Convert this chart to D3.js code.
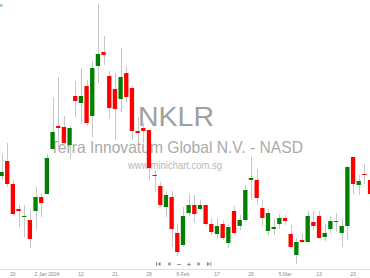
<!DOCTYPE html>
<html>
<head>
<meta charset="utf-8">
<script src="https://cdn.jsdelivr.net/npm/d3@7"></script>
<style>
  body { margin: 0; background: #fff; }
  svg { display: block; font-family: "Liberation Sans", Arial, sans-serif; }
</style>
</head>
<body>
<script>
// daily candles, oldest first (prices)
var opens  = [10.24,10.39,10.16, 9.91, 9.84, 9.80, 9.89,10.03,10.06,10.51,10.74,10.73,10.55,11.04,10.97,11.14,10.84,11.34,11.48,11.24,11.11,11.01,11.27,11.12,10.69,10.72,10.70,10.25,10.14, 9.93,10.03, 9.67, 9.55, 9.87, 9.95, 9.91, 9.95, 9.76, 9.66, 9.76, 9.57, 9.89, 9.74, 9.80,10.20,10.20, 9.92, 9.69, 9.71, 9.76, 9.82, 9.66, 9.45, 9.60, 9.58, 9.78, 9.84, 9.63, 9.71, 9.79, 9.67, 9.74,10.43,10.15,10.26,10.20];
var highs  = [10.46,10.57,10.20, 9.95, 9.95, 9.90,10.13,10.07,10.46,11.03,11.23,10.84,10.75,11.19,11.32,11.20,11.39,11.96,11.64,11.29,11.27,11.52,11.34,11.14,10.83,10.77,10.70,10.30,10.18,10.09,10.09, 9.76, 9.93,10.06,10.05,10.00, 9.95, 9.82, 9.82, 9.80, 9.76, 9.94, 9.85,10.15,10.43,10.31,10.00, 9.91, 9.81, 9.86, 9.85, 9.75, 9.62, 9.67, 9.89, 9.89, 9.89, 9.76, 9.84, 9.87, 9.81,10.34,10.43,10.25,10.36,10.30];
var lows   = [10.20,10.13, 9.84, 9.73, 9.63, 9.52, 9.70, 9.83,10.06,10.51,10.53,10.52,10.41,10.83,10.76,10.74,10.63,11.17,11.35,10.81,10.60,10.88,10.98,10.60,10.58,10.57,10.20,10.08, 9.93, 9.83, 9.53, 9.44, 9.53, 9.84, 9.77, 9.90, 9.74, 9.65, 9.62, 9.60, 9.52, 9.65, 9.70, 9.78,10.00, 9.95, 9.74, 9.65, 9.65, 9.71, 9.75, 9.52, 9.36, 9.57, 9.57, 9.70, 9.61, 9.59, 9.67, 9.68, 9.53, 9.60,10.06,10.05,10.16,10.00];
var closes = [10.28,10.16, 9.86, 9.89, 9.84, 9.61,10.03, 9.97,10.42,10.68,10.72,10.57,10.72,10.99,11.04,10.77,11.32,11.46,11.45,10.92,10.91,11.23,11.03,10.69,10.67,10.69,10.32,10.24, 9.95,10.05, 9.71, 9.48, 9.84, 9.95, 9.86, 9.95, 9.76, 9.68, 9.74, 9.62, 9.73, 9.67, 9.80,10.10,10.22,10.02, 9.82, 9.87, 9.73, 9.82, 9.79, 9.53, 9.58, 9.58, 9.84, 9.74, 9.62, 9.67, 9.79, 9.78, 9.74,10.33,10.16,10.19,10.25,10.06];

// date labels under the axis and the candle they sit under
var tickIndex  = [2, 8, 14, 20, 26, 32, 38, 44, 50, 56, 62];
var tickLabels = ["20", "2 Jan 2024", "12", "21", "29", "6 Feb", "17", "26", "5 Mar", "13", "23"];

var svgWidth = 370;
var svgHeight = 278;

var candles = opens.map(function(o, i) {
  return { i: i, open: o, high: highs[i], low: lows[i], close: closes[i] };
});

var svg = d3.select("body")
  .append("svg")
  .attr("width", svgWidth)
  .attr("height", svgHeight);

// x: one band per trading day
var xScale = d3.scaleBand()
  .domain(candles.map(function(d) { return d.i; }))
  .range([-1.3, 372.9])
  .paddingInner(0.24)
  .paddingOuter(0.12);

// y: price
var yScale = d3.scaleLinear()
  .domain([9.4, 12.0])
  .range([260, 0]);

// watermark
var wm = svg.append("g").attr("text-anchor", "middle");
wm.append("text")
  .attr("x", 176).attr("y", 126)
  .attr("font-size", 28.5)
  .attr("fill", "#a0a0a0")
  .text("NKLR");
wm.append("text")
  .attr("x", 176.5).attr("y", 153)
  .attr("font-size", 16.5)
  .attr("fill", "#aaaaaa")
  .attr("textLength", 253)
  .attr("lengthAdjust", "spacingAndGlyphs")
  .text("Terra Innovatum Global N.V. - NASD");
wm.append("text")
  .attr("x", 175).attr("y", 169)
  .attr("font-size", 10.5)
  .attr("fill", "#b8b8b8")
  .attr("textLength", 94)
  .attr("lengthAdjust", "spacingAndGlyphs")
  .text("www.minichart.com.sg");

// small marker top left
svg.append("rect")
  .attr("x", 0).attr("y", 4)
  .attr("width", 2.5).attr("height", 3)
  .attr("fill", "#9fd09f");

// x axis
var xAxis = d3.axisBottom(xScale)
  .tickValues(tickIndex)
  .tickSize(0)
  .tickPadding(3)
  .tickFormat(function(d) { return tickLabels[tickIndex.indexOf(d)]; });

var axisG = svg.append("g")
  .attr("transform", "translate(0, 269)")
  .call(xAxis);
axisG.select(".domain").attr("stroke", "#e0e0e0");
axisG.selectAll("text")
  .attr("font-size", 5)
  .attr("fill", "#8a8a8a")
  .attr("font-family", "Liberation Sans, Arial, sans-serif");

// candles
var half = xScale.bandwidth() / 2;
var cg = svg.append("g");

cg.selectAll(".wick")
  .data(candles)
  .enter()
  .append("line")
  .attr("class", "wick")
  .attr("x1", function(d) { return Math.round(xScale(d.i) + half) + 0.5; })
  .attr("x2", function(d) { return Math.round(xScale(d.i) + half) + 0.5; })
  .attr("y1", function(d) { return yScale(d.high); })
  .attr("y2", function(d) { return yScale(d.low); })
  .attr("stroke", "#c8c8c8")
  .attr("stroke-width", 1);

cg.selectAll(".body")
  .data(candles)
  .enter()
  .append("rect")
  .attr("class", "body")
  .attr("x", function(d) { return xScale(d.i); })
  .attr("width", xScale.bandwidth())
  .attr("y", function(d) { return yScale(Math.max(d.open, d.close)); })
  .attr("height", function(d) { return Math.max(1, Math.abs(yScale(d.open) - yScale(d.close))); })
  .attr("fill", function(d) { return d.close >= d.open ? "#008000" : "#ff0000"; });

// navigation buttons
var nav = svg.append("g").attr("fill", "#808080").attr("stroke", "#808080");
var navY = 264;
// |<
nav.append("rect").attr("x", 156).attr("y", navY - 2).attr("width", 0.8).attr("height", 4).attr("stroke", "none");
nav.append("path").attr("d", "M157.5," + navY + "L160.5," + (navY - 2) + "L160.5," + (navY + 2) + "Z").attr("stroke", "none");
// <
nav.append("path").attr("d", "M167.5," + navY + "L170.5," + (navY - 2) + "L170.5," + (navY + 2) + "Z").attr("stroke", "none");
// -
nav.append("line").attr("x1", 177).attr("x2", 181).attr("y1", navY + 0.5).attr("y2", navY + 0.5).attr("stroke-width", 0.8);
// +
nav.append("line").attr("x1", 187).attr("x2", 191).attr("y1", navY + 0.5).attr("y2", navY + 0.5).attr("stroke-width", 0.8);
nav.append("line").attr("x1", 189).attr("x2", 189).attr("y1", navY - 1.5).attr("y2", navY + 2.5).attr("stroke-width", 0.8);
// >
nav.append("path").attr("d", "M200.5," + navY + "L197.5," + (navY - 2) + "L197.5," + (navY + 2) + "Z").attr("stroke", "none");
// >|
nav.append("path").attr("d", "M210," + navY + "L207," + (navY - 2) + "L207," + (navY + 2) + "Z").attr("stroke", "none");
nav.append("rect").attr("x", 210.5).attr("y", navY - 2).attr("width", 0.8).attr("height", 4).attr("stroke", "none");
</script>
</body>
</html>
